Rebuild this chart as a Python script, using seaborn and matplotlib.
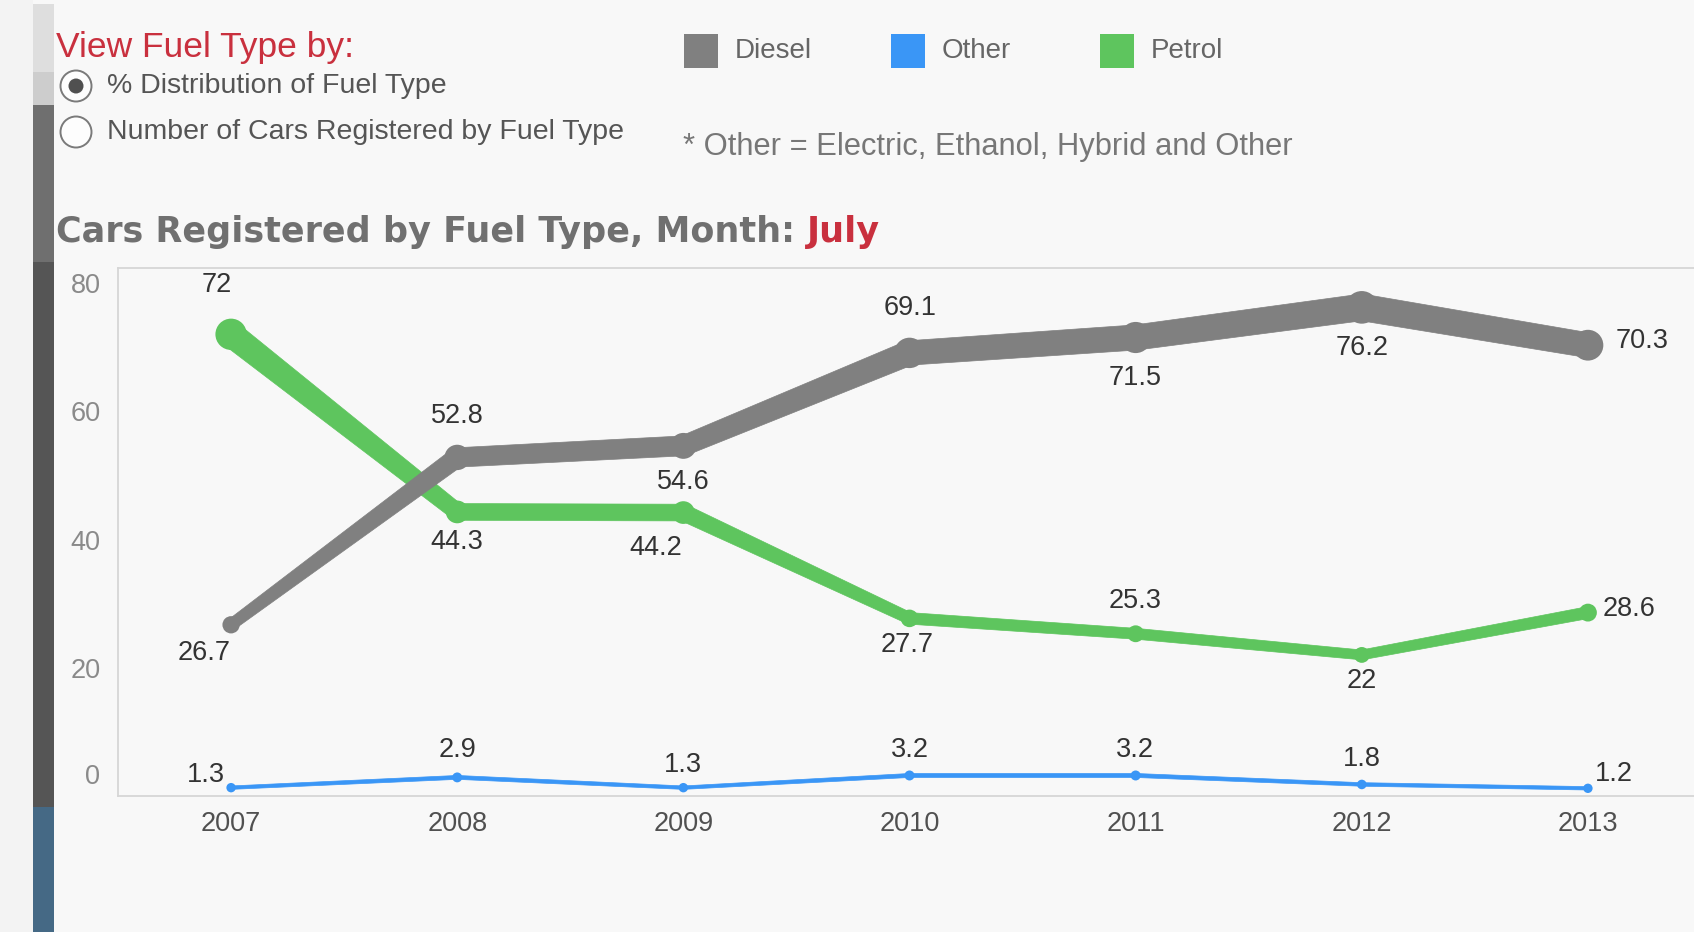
import numpy as np
import pandas as pd
import matplotlib
matplotlib.use("Agg")
import matplotlib.pyplot as plt
import seaborn as sns
from matplotlib.patches import Rectangle, Circle, Polygon

# ---------------------------------------------------------------- data
years = ["2007", "2008", "2009", "2010", "2011", "2012", "2013"]
diesel = [26.7, 52.8, 54.6, 69.1, 71.5, 76.2, 70.3]
other = [1.3, 2.9, 1.3, 3.2, 3.2, 1.8, 1.2]
petrol = [72.0, 44.3, 44.2, 27.7, 25.3, 22.0, 28.6]
fuel_types = ["Diesel", "Other", "Petrol"]
y_ticks = [0, 20, 40, 60, 80]
month = "July"
view_options = ["% Distribution of Fuel Type",
                "Number of Cars Registered by Fuel Type"]
footnote = "* Other = Electric, Ethanol, Hybrid and Other"

# ---------------------------------------------------------------- styling
BG = "#f8f8f8"
palette = {"Diesel": "#808080", "Other": "#3a96f6", "Petrol": "#5ec55e"}
RED = "#c9303e"
TEXT_DARK = "#333333"

# value-label offsets (pixels) so labels sit clear of the lines
label_offsets = {
    "Diesel": [(-27, -28), (0, 41), (0, -36), (1, 45), (-1, -40), (0, -41), (54, 4)],
    "Petrol": [(-14, 49), (0, -30), (-28, -35), (-2, -27), (-1, 33), (0, -26), (41, 4)],
    "Other": [(-25, 13), (0, 27), (0, 23), (0, 25), (-1, 25), (0, 25), (26, 14)],
}

sns.set_style("white")
plt.rcParams["font.family"] = ["Liberation Sans", "DejaVu Sans"]

W, H, DPI = 1694, 932, 100
fig = plt.figure(figsize=(W / DPI, H / DPI), dpi=DPI, facecolor=BG)


def fx(px):
    return px / W


def fy(py):
    return 1 - py / H


# plot area in pixel units
AX_L, AX_R, AX_T, AX_B = 118, 1701, 268, 796
PX_PER_UNIT = 6.4125
Y_MAX = (AX_B - AX_T) / PX_PER_UNIT
ax = fig.add_axes([fx(AX_L), fy(AX_B), (AX_R - AX_L) / W, (AX_B - AX_T) / H])
ax.set_facecolor(BG)

df = pd.DataFrame({
    "pos": list(range(len(years))) * len(fuel_types),
    "Fuel": np.repeat(fuel_types, len(years)),
    "Share": diesel + other + petrol,
})

ax.set_xlim(-0.5, len(years) - 0.5)
ax.set_ylim(0, Y_MAX)

draw_order = ["Other", "Petrol", "Diesel"]
sx = (AX_R - AX_L) / len(years)      # pixels per x unit
sy = PX_PER_UNIT                      # pixels per y unit


def width_px(v):
    return 3.0 + 0.31 * v


for z, fuel in enumerate(draw_order):
    sub = df[df["Fuel"] == fuel]
    sns.lineplot(data=sub, x="pos", y="Share", color=palette[fuel],
                 linewidth=1.5, legend=False, ax=ax, sort=False,
                 estimator=None, zorder=3 + 2 * z)
    xs = sub["pos"].to_numpy(dtype=float)
    ys = sub["Share"].to_numpy(dtype=float)
    ws = width_px(ys)
    # tapered segments: thickness follows the value at each end
    for i in range(len(xs) - 1):
        p0 = np.array([xs[i] * sx, ys[i] * sy])
        p1 = np.array([xs[i + 1] * sx, ys[i + 1] * sy])
        d = (p1 - p0) / np.linalg.norm(p1 - p0)
        n = np.array([-d[1], d[0]])
        corners = [p0 + n * ws[i] / 2, p1 + n * ws[i + 1] / 2,
                   p1 - n * ws[i + 1] / 2, p0 - n * ws[i] / 2]
        corners = [(c[0] / sx, c[1] / sy) for c in corners]
        ax.add_patch(Polygon(corners, closed=True, facecolor=palette[fuel],
                             edgecolor=palette[fuel], linewidth=0.5,
                             zorder=4 + 2 * z))
    marker_d = (ws + 6) * 0.72
    ax.scatter(xs, ys, s=marker_d ** 2, color=palette[fuel], linewidths=0,
               zorder=4 + 2 * z)
    for i, (x, v) in enumerate(zip(xs, ys)):
        dx, dy = label_offsets[fuel][i]
        ax.annotate(f"{v:g}", (x, v), xytext=(dx, dy), textcoords="offset pixels",
                    ha="center", va="center", fontsize=19.5, color=TEXT_DARK,
                    zorder=20)

# ---------------------------------------------------------------- axes
ax.set_xlabel("")
ax.set_ylabel("")
for side in ["left", "top", "bottom"]:
    ax.spines[side].set_color("#d6d6d6")
    ax.spines[side].set_linewidth(1.3)
ax.spines["right"].set_visible(False)

ax.set_yticks(y_ticks, labels=[""] + [str(t) for t in y_ticks[1:]])
ax.tick_params(axis="y", length=12 * 0.72, width=1, color="#d0d0d0",
               pad=4, labelsize=19.5, labelcolor="#8a8a8a")
ax.annotate(str(y_ticks[0]), (0, 0), xycoords="axes fraction",
            xytext=(-18, 19), textcoords="offset pixels",
            ha="right", va="center", fontsize=19.5, color="#8a8a8a")

ax.set_xticks(np.arange(-0.5, len(years) + 0.5, 1.0), labels=[])
ax.set_xticks(range(len(years)), labels=years, minor=True)
ax.tick_params(axis="x", which="major", length=10 * 0.72, width=1,
               color="#d0d0d0")
ax.tick_params(axis="x", which="minor", length=0, pad=11,
               labelsize=19.5, labelcolor="#505050")
ax.grid(False)

# ---------------------------------------------------------------- side bar
fig.patches.append(Rectangle((0, 0), fx(33), 1, transform=fig.transFigure,
                             facecolor="#f3f3f3", edgecolor="none", zorder=0))
bar_segments = [(4, 72, "#dedede"), (72, 105, "#cdcdcd"), (105, 262, "#6f6f6f"),
                (262, 807, "#555555"), (807, 932, "#456985")]
for top, bottom, col in bar_segments:
    fig.patches.append(Rectangle((fx(33), fy(bottom)), fx(54) - fx(33),
                                 (bottom - top) / H, transform=fig.transFigure,
                                 facecolor=col, edgecolor="none", zorder=1))

# ---------------------------------------------------------------- header
fig.text(fx(56), fy(47), "View Fuel Type by:", color=RED, fontsize=25.5,
         va="center", ha="left")

for k, (label, cy) in enumerate(zip(view_options, [86, 132])):
    ring = Circle((76 / DPI, (H - cy) / DPI), 15.5 / DPI,
                  transform=fig.dpi_scale_trans, facecolor="#fdfdfd",
                  edgecolor="#7a7a7a", linewidth=1.4, zorder=3)
    fig.patches.append(ring)
    if k == 0:
        fig.patches.append(Circle((76 / DPI, (H - cy) / DPI), 7.5 / DPI,
                                  transform=fig.dpi_scale_trans,
                                  facecolor="#505050", edgecolor="none",
                                  zorder=4))
    fig.text(fx(107), fy(cy), label, color="#555555", fontsize=20.5,
             va="center", ha="left")

legend_x = [684, 891, 1100]
for fuel, lx in zip(fuel_types, legend_x):
    fig.patches.append(Rectangle((fx(lx), fy(68)), 34 / W, 34 / H,
                                 transform=fig.transFigure,
                                 facecolor=palette[fuel], edgecolor="none"))
    fig.text(fx(lx + 51), fy(51), fuel, color="#666666", fontsize=20,
             va="center", ha="left")

fig.text(fx(683), fy(147), footnote, color="#777777", fontsize=22.2,
         va="center", ha="left")

title_font = dict(fontsize=25.2, fontweight="bold", family=["DejaVu Sans"])
title = fig.text(fx(56), fy(249), "Cars Registered by Fuel Type, Month:",
                 color="#707070", va="bottom", ha="left", **title_font)
ax.annotate(month, xy=(1, 0), xycoords=title, xytext=(12, 0),
            textcoords="offset pixels", color=RED, va="bottom", ha="left",
            annotation_clip=False, **title_font)

fig.savefig("out.png", dpi=DPI, facecolor=BG)
